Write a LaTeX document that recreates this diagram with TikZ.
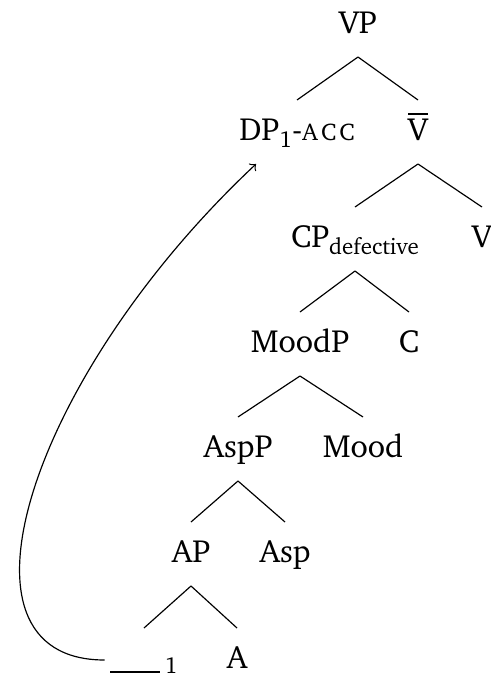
\documentclass[tikz,border=0pt]{standalone}
\IfFileExists{charter.sty}{%
  \usepackage[T1]{fontenc}\usepackage{charter}}{%
  \usepackage{fontspec}\setmainfont{Liberation Serif}}
% lowered subscript in the text font
\newcommand\lowsub[1]{\raisebox{-2.6pt}{\fontsize{7.8pt}{9pt}\selectfont #1}}
% small capitals built from reduced capitals
\newcommand\smallcaps[1]{{\fontsize{8.2pt}{9pt}\selectfont #1}}
\newcommand\tracegap{\rule[-1.6pt]{17pt}{0.6pt}\hspace{1.5pt}\raisebox{-1.8pt}{\fontsize{7.8pt}{9pt}\selectfont 1}}
\begin{document}
\begin{tikzpicture}[x=0.34pt,y=-0.34pt,
  lab/.style={anchor=base, inner sep=2pt, outer sep=0pt,
              font=\fontsize{10.9pt}{13pt}\selectfont,
              text height=11.6pt, text depth=6.16pt},
  branch/.style={line width=0.4pt},
  move/.style={->, line width=0.4pt}]
\useasboundingbox (0,0) rectangle (491,676);

% tree labels
\node[lab] (vp)    at (358,33)  {VP};
\node[lab] (dp)    at (297,140) {DP\lowsub{1}-\smallcaps{A\kern1.1pt C\kern1.1pt C}};
\node[lab] (vbar)  at (418,140) {$\overline{\mbox{V}}$};
\node[lab] (cp)    at (355,247) {CP\lowsub{defective}};
\node[lab] (v)     at (482,247) {V};
\node[lab] (moodp) at (300,352) {MoodP};
\node[lab] (c)     at (409,352) {C};
\node[lab] (aspp)  at (238,457) {AspP};
\node[lab] (mood)  at (363,457) {Mood};
\node[lab] (ap)    at (191,562) {AP};
\node[lab] (asp)   at (285,562) {Asp};
\node[lab] (trace) at (144,668) {\tracegap};
\node[lab] (a)     at (237,668) {A};

% branches
\draw[branch] (vp.south) -- (dp.north);
\draw[branch] (vp.south) -- (vbar.north);
\draw[branch] (vbar.south) -- (cp.north);
\draw[branch] (vbar.south) -- (v.north);
\draw[branch] (cp.south) -- (moodp.north);
\draw[branch] (cp.south) -- (c.north);
\draw[branch] (moodp.south) -- (aspp.north);
\draw[branch] (moodp.south) -- (mood.north);
\draw[branch] (aspp.south) -- (ap.north);
\draw[branch] (aspp.south) -- (asp.north);
\draw[branch] (ap.south) -- (trace.north);
\draw[branch] (ap.south) -- (a.north);

% movement arrow from the gap up to the moved DP
\draw[move] (trace.west) .. controls +(-166,0) and +(-226,212) .. (dp.218);
\end{tikzpicture}
\end{document}
